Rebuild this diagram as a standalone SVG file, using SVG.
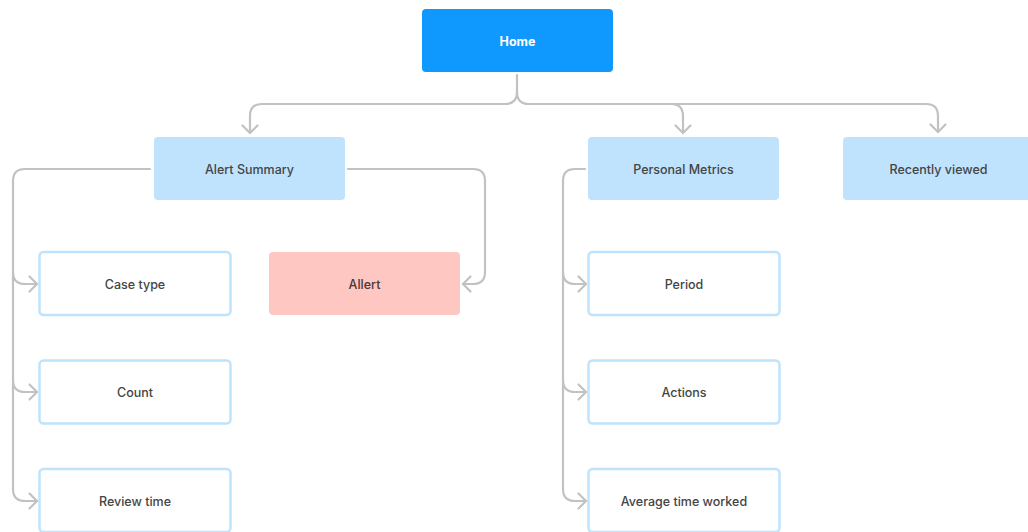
<svg xmlns="http://www.w3.org/2000/svg" width="1028" height="532" viewBox="0 0 1028 532">
  <defs>
    <style>
      .node-primary { fill: #0F99FF; }
      .node-section { fill: #BFE3FD; }
      .node-leaf { fill: #FFFFFF; stroke: #BFE3FD; stroke-width: 2.5; }
      .node-alert { fill: #FFC7C2; }
      .label { font-family: Inter, "Liberation Sans", sans-serif; font-size: 12.5px; font-weight: 500; fill: #444444; text-anchor: middle; dominant-baseline: central; }
      .label-primary { fill: #FFFFFF; font-weight: 700; }
      .label-alert { fill: #4a3838; }
      .wire { fill: none; stroke: #C2C2C2; stroke-width: 2.2; stroke-linecap: round; stroke-linejoin: round; }
    </style>
    <marker id="chevron" markerUnits="userSpaceOnUse" markerWidth="20" markerHeight="20" viewBox="-10 -10 20 20" refX="0" refY="0" orient="auto">
      <path d="M-7.5,-7.5 L0,0 L-7.5,7.5" fill="none" stroke="#C2C2C2" stroke-width="2.2" stroke-linecap="round" stroke-linejoin="round"/>
    </marker>
  </defs>

  <rect width="1028" height="532" fill="#FFFFFF"/>

  <!-- connectors -->
  <g id="connectors">
    <!-- Home fan-out -->
    <path class="wire" d="M517 75 V92 Q517 104 505 104 H262 Q250 104 250 116 V133" marker-end="url(#chevron)"/>
    <path class="wire" d="M517 92 Q517 104 529 104 H926 Q938 104 938 116 V132" marker-end="url(#chevron)"/>
    <path class="wire" d="M671 104 Q683 104 683 116 V133" marker-end="url(#chevron)"/>

    <!-- Alert Summary, left column -->
    <path class="wire" d="M150 169 H25 Q13 169 13 181 V489 Q13 501 25 501 H37" marker-end="url(#chevron)"/>
    <path class="wire" d="M13 272 Q13 284 25 284 H37" marker-end="url(#chevron)"/>
    <path class="wire" d="M13 380 Q13 392 25 392 H37" marker-end="url(#chevron)"/>

    <!-- Alert Summary to Allert -->
    <path class="wire" d="M348 169 H473 Q485 169 485 181 V272 Q485 284 473 284 H463" marker-end="url(#chevron)"/>

    <!-- Personal Metrics column -->
    <path class="wire" d="M585 169 H575 Q563 169 563 181 V489 Q563 501 575 501 H586" marker-end="url(#chevron)"/>
    <path class="wire" d="M563 272 Q563 284 575 284 H586" marker-end="url(#chevron)"/>
    <path class="wire" d="M563 380 Q563 392 575 392 H586" marker-end="url(#chevron)"/>
  </g>

  <!-- nodes -->
  <g id="home">
    <rect class="node-primary" x="422" y="9" width="191" height="63" rx="4"/>
    <text class="label label-primary" x="517.5" y="41">Home</text>
  </g>

  <g id="alert-summary">
    <rect class="node-section" x="154" y="137" width="191" height="63" rx="4"/>
    <text class="label" x="249.5" y="169">Alert Summary</text>
  </g>

  <g id="personal-metrics">
    <rect class="node-section" x="588" y="137" width="191" height="63" rx="4"/>
    <text class="label" x="683.5" y="169">Personal Metrics</text>
  </g>

  <g id="recently-viewed">
    <rect class="node-section" x="843" y="137" width="191" height="63" rx="4"/>
    <text class="label" x="938.5" y="169">Recently viewed</text>
  </g>

  <g id="case-type">
    <rect class="node-leaf" x="39.5" y="252" width="191" height="63" rx="4"/>
    <text class="label" x="135" y="284">Case type</text>
  </g>

  <g id="count">
    <rect class="node-leaf" x="39.5" y="360.5" width="191" height="63" rx="4"/>
    <text class="label" x="135" y="392.5">Count</text>
  </g>

  <g id="review-time">
    <rect class="node-leaf" x="39.5" y="469" width="191" height="63" rx="4"/>
    <text class="label" x="135" y="501">Review time</text>
  </g>

  <g id="allert">
    <rect class="node-alert" x="269" y="252" width="191" height="63" rx="4"/>
    <text class="label label-alert" x="364.5" y="284">Allert</text>
  </g>

  <g id="period">
    <rect class="node-leaf" x="588.5" y="252" width="191" height="63" rx="4"/>
    <text class="label" x="684" y="284">Period</text>
  </g>

  <g id="actions">
    <rect class="node-leaf" x="588.5" y="360.5" width="191" height="63" rx="4"/>
    <text class="label" x="684" y="392.5">Actions</text>
  </g>

  <g id="average-time-worked">
    <rect class="node-leaf" x="588.5" y="469" width="191" height="63" rx="4"/>
    <text class="label" x="684" y="501">Average time worked</text>
  </g>
</svg>
